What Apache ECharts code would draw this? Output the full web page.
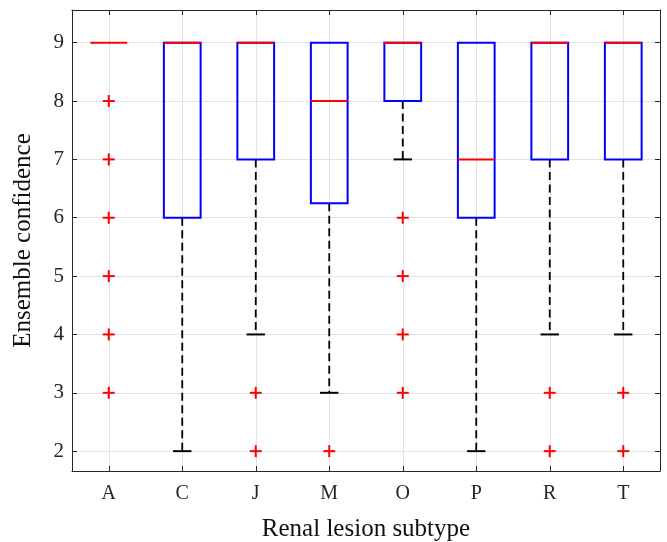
<!DOCTYPE html>
<html>
<head>
<meta charset="utf-8">
<script src="https://cdn.jsdelivr.net/npm/echarts@6/dist/echarts.min.js"></script>
<style>html,body{margin:0;padding:0;background:#fff}#c{width:667px;height:542px}</style>
</head>
<body>
<div id="c"></div>
<script>
var categories = ['A', 'C', 'J', 'M', 'O', 'P', 'R', 'T'];
var q1 = [9, 6, 7, 6.25, 8, 6, 7, 7];
var median = [9, 9, 9, 8, 9, 7, 9, 9];
var q3 = [9, 9, 9, 9, 9, 9, 9, 9];
var whiskerLow = [9, 2, 4, 3, 7, 2, 4, 4];
var whiskerHigh = [9, 9, 9, 9, 9, 9, 9, 9];
var outliers = [
  [8, 7, 6, 5, 4, 3],
  [],
  [3, 2],
  [2],
  [6, 5, 4, 3],
  [],
  [3, 2],
  [3, 2]
];
var yTicks = [2, 3, 4, 5, 6, 7, 8, 9];
var xTicks = [1, 2, 3, 4, 5, 6, 7, 8];

var boxData = categories.map(function (c, i) {
  return [i + 1, q1[i], median[i], q3[i], whiskerLow[i], whiskerHigh[i]];
});
var outlierData = [];
outliers.forEach(function (arr, i) {
  arr.forEach(function (v) { outlierData.push([i + 1, v]); });
});

var FONT = 'Liberation Serif';
var AX = '#262626';

function xAxisBase(pos, show) {
  return {
    type: 'value', position: pos, min: 0.5, max: 8.5,
    axisLine: { show: true, onZero: false, lineStyle: { color: AX, width: 1 } },
    axisTick: { show: true, inside: true, length: 5, customValues: xTicks, lineStyle: { color: AX } },
    axisLabel: {
      show: show, customValues: xTicks, margin: 13,
      fontFamily: FONT, fontSize: 20, color: AX,
      formatter: function (v) { return categories[Math.round(v) - 1] || ''; }
    },
    splitLine: { show: show, lineStyle: { color: '#e3e3e3', width: 1 } }
  };
}
function yAxisBase(pos, show) {
  return {
    type: 'value', position: pos, min: 1.66, max: 9.56,
    axisLine: { show: true, onZero: false, lineStyle: { color: AX, width: 1 } },
    axisTick: { show: true, inside: true, length: 5, customValues: yTicks, lineStyle: { color: AX } },
    axisLabel: {
      show: show, customValues: yTicks, margin: 8,
      fontFamily: FONT, fontSize: 21, color: AX
    },
    splitLine: { show: show, lineStyle: { color: '#e3e3e3', width: 1 } }
  };
}

var xa = xAxisBase('bottom', true);
xa.name = 'Renal lesion subtype';
xa.nameLocation = 'middle';
xa.nameGap = 46;
xa.nameTextStyle = { fontFamily: FONT, fontSize: 25, color: '#111' };
var ya = yAxisBase('left', true);
ya.name = 'Ensemble confidence';
ya.nameLocation = 'middle';
ya.nameGap = 36;
ya.nameRotate = 90;
ya.nameTextStyle = { fontFamily: FONT, fontSize: 25, color: '#111' };

var chart = echarts.init(document.getElementById('c'));
chart.setOption({
  animation: false,
  grid: { left: 72, right: 7, top: 10, bottom: 71, containLabel: false, outerBoundsMode: 'none' },
  xAxis: [xa, xAxisBase('top', false)],
  yAxis: [ya, yAxisBase('right', false)],
  series: [
    {
      type: 'custom',
      xAxisIndex: 0, yAxisIndex: 0,
      data: boxData,
      z: 3,
      renderItem: function (params, api) {
        var x = api.value(0);
        var vq1 = api.value(1), vmed = api.value(2), vq3 = api.value(3);
        var vlo = api.value(4), vhi = api.value(5);
        var bw = api.size([0.5, 0])[0];
        var cw = api.size([0.25, 0])[0];
        var pQ1 = api.coord([x, vq1]);
        var pQ3 = api.coord([x, vq3]);
        var pMed = api.coord([x, vmed]);
        var pLo = api.coord([x, vlo]);
        var pHi = api.coord([x, vhi]);
        var cx = pQ1[0];
        var dashStyle = { stroke: '#000', lineWidth: 1.8, lineDash: [8, 4.5] };
        var capStyle = { stroke: '#000', lineWidth: 2 };
        var children = [];
        if (pLo[1] - pQ1[1] > 0.5) {
          children.push({ type: 'line', shape: { x1: cx, y1: pQ1[1], x2: cx, y2: pLo[1] }, style: dashStyle });
          children.push({ type: 'line', shape: { x1: cx - cw / 2, y1: pLo[1], x2: cx + cw / 2, y2: pLo[1] }, style: capStyle });
        }
        if (pQ3[1] - pHi[1] > 0.5) {
          children.push({ type: 'line', shape: { x1: cx, y1: pQ3[1], x2: cx, y2: pHi[1] }, style: dashStyle });
          children.push({ type: 'line', shape: { x1: cx - cw / 2, y1: pHi[1], x2: cx + cw / 2, y2: pHi[1] }, style: capStyle });
        }
        if (pQ1[1] - pQ3[1] > 0.5) {
          children.push({ type: 'rect', shape: { x: cx - bw / 2, y: pQ3[1], width: bw, height: pQ1[1] - pQ3[1] }, style: { fill: 'none', stroke: '#0000ff', lineWidth: 2 } });
        }
        children.push({ type: 'line', shape: { x1: cx - bw / 2, y1: pMed[1], x2: cx + bw / 2, y2: pMed[1] }, style: { stroke: '#ff0000', lineWidth: 2 } });
        return { type: 'group', children: children };
      }
    },
    {
      type: 'custom',
      xAxisIndex: 0, yAxisIndex: 0,
      data: outlierData,
      z: 4,
      renderItem: function (params, api) {
        var p = api.coord([api.value(0), api.value(1)]);
        var h = 6;
        var st = { stroke: '#ff0000', lineWidth: 2 };
        return {
          type: 'group',
          children: [
            { type: 'line', shape: { x1: p[0] - h, y1: p[1], x2: p[0] + h, y2: p[1] }, style: st },
            { type: 'line', shape: { x1: p[0], y1: p[1] - h, x2: p[0], y2: p[1] + h }, style: st }
          ]
        };
      }
    }
  ]
});
</script>
</body>
</html>
